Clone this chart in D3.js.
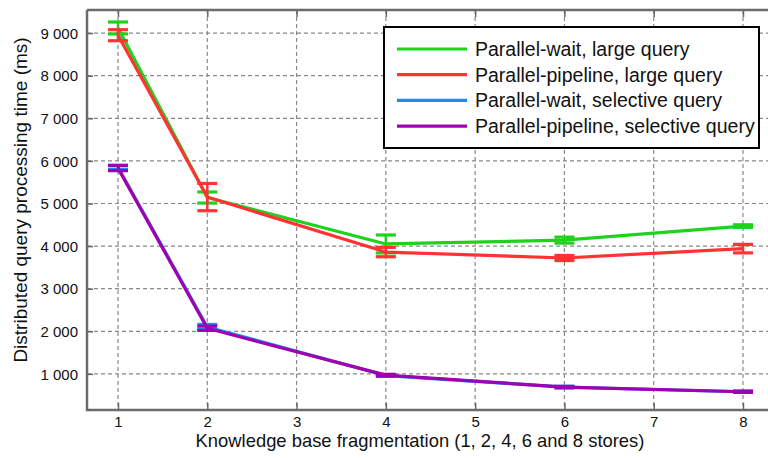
<!DOCTYPE html>
<html><head><meta charset="utf-8">
<script src="https://cdn.jsdelivr.net/npm/d3@7"></script>
<style>body{margin:0;background:#fff}svg{display:block}text{font-family:"Liberation Sans",Arial,sans-serif;fill:#111}</style>
</head><body><svg id="c" width="768" height="458"></svg>
<script>
const stores = [1, 2, 4, 6, 8];
const xTicks = [1, 2, 3, 4, 5, 6, 7, 8];
const yTicks = [1000, 2000, 3000, 4000, 5000, 6000, 7000, 8000, 9000];
const seriesNames = ["Parallel-wait, large query", "Parallel-pipeline, large query", "Parallel-wait, selective query", "Parallel-pipeline, selective query"];
const seriesColors = ["#1ed21e", "#ff3333", "#1a8cff", "#a000b0"];
const waitLarge = [9120, 5140, 4050, 4140, 4470];
const waitLargeErr = [140, 130, 210, 70, 30];
const pipeLarge = [8950, 5150, 3860, 3720, 3940];
const pipeLargeErr = [130, 320, 110, 60, 100];
const waitSel = [5850, 2100, 960, 690, 580];
const waitSelErr = [50, 60, 20, 20, 15];
const pipeSel = [5830, 2070, 970, 690, 580];
const pipeSelErr = [60, 50, 20, 15, 15];

const series = [
  {v: waitLarge, e: waitLargeErr},
  {v: pipeLarge, e: pipeLargeErr},
  {v: waitSel, e: waitSelErr},
  {v: pipeSel, e: pipeSelErr}
];

const L = 87, T = 10, R = 790, B = 410;
const x = d3.scaleLinear().domain([1, 8]).range([118, 743]);
const y = d3.scaleLinear().domain([152, 9542]).range([B, T]);
const svg = d3.select("#c");

// grid
const g = svg.append("g");
g.selectAll(".gx").data(xTicks).join("line")
  .attr("x1", d => x(d)).attr("x2", d => x(d)).attr("y1", T).attr("y2", B)
  .attr("stroke", "#888").attr("stroke-width", 1.2).attr("stroke-dasharray", "4,3");
g.selectAll(".gy").data(yTicks).join("line")
  .attr("x1", L).attr("x2", R).attr("y1", d => y(d)).attr("y2", d => y(d))
  .attr("stroke", "#888").attr("stroke-width", 1.2).attr("stroke-dasharray", "4,3");

// axes
const xAxis = d3.axisBottom(x).tickValues(xTicks).tickSize(-7).tickPadding(6).tickFormat(d3.format("d"));
const xg = svg.append("g").attr("transform", `translate(0,${B})`).call(xAxis);
xg.select(".domain").remove();
const xTop = d3.axisTop(x).tickValues(xTicks).tickSize(-7).tickFormat("");
const xtg = svg.append("g").attr("transform", `translate(0,${T})`).call(xTop);
xtg.select(".domain").remove();
const yAxis = d3.axisLeft(y).tickValues(yTicks).tickSize(-6).tickPadding(9)
  .tickFormat(d => d3.format(",")(d).replace(",", " "));
const yg = svg.append("g").attr("transform", `translate(${L},0)`).call(yAxis);
yg.select(".domain").remove();
[xg, xtg, yg].forEach(a => {
  a.selectAll(".tick line").attr("stroke", "#666").attr("stroke-width", 1.5);
  a.selectAll(".tick text").style("font-size", "15px").style("font-family", "Liberation Sans, Arial, sans-serif").attr("fill", "#111");
});
yg.selectAll(".tick text").attr("dy", "0.35em");

// frame
svg.append("path").attr("d", `M${L},${T}H${R}M${L},${T}V${B}H${R}`)
  .attr("fill", "none").attr("stroke", "#6b6b6b").attr("stroke-width", 2.5);

// series
const line = d3.line().x((d, i) => x(stores[i])).y(d => y(d));
series.forEach((s, k) => {
  const sg = svg.append("g");
  sg.append("path").datum(s.v).attr("d", line).attr("fill", "none")
    .attr("stroke", seriesColors[k]).attr("stroke-width", 3.2).attr("stroke-linejoin", "round");
  s.v.forEach((v, i) => {
    const cx = x(stores[i]);
    const y1 = y(v - s.e[i]), y2 = y(v + s.e[i]);
    sg.append("line").attr("x1", cx).attr("x2", cx).attr("y1", y1).attr("y2", y2)
      .attr("stroke", seriesColors[k]).attr("stroke-width", 2.5);
    [y1, y2].forEach(yy => sg.append("line").attr("x1", cx - 10).attr("x2", cx + 10)
      .attr("y1", yy).attr("y2", yy).attr("stroke", seriesColors[k]).attr("stroke-width", 3.2));
  });
});

// legend
const lg = svg.append("g");
lg.append("rect").attr("x", 384).attr("y", 27).attr("width", 375).attr("height", 121)
  .attr("fill", "#fff").attr("stroke", "#000").attr("stroke-width", 2);
seriesNames.forEach((n, i) => {
  const yy = 49 + i * 25.7;
  lg.append("line").attr("x1", 397).attr("x2", 467).attr("y1", yy).attr("y2", yy)
    .attr("stroke", seriesColors[i]).attr("stroke-width", 3.2);
  lg.append("text").attr("x", 475).attr("y", yy).attr("dy", "0.35em")
    .style("font-size", "19.5px").text(n);
});

// axis titles
svg.append("text").attr("x", 420).attr("y", 447).attr("text-anchor", "middle")
  .style("font-size", "18.4px").text("Knowledge base fragmentation (1, 2, 4, 6 and 8 stores)");
svg.append("text").attr("transform", "translate(27,200) rotate(-90)").attr("text-anchor", "middle")
  .style("font-size", "19px").text("Distributed query processing time (ms)");
</script></body></html>
